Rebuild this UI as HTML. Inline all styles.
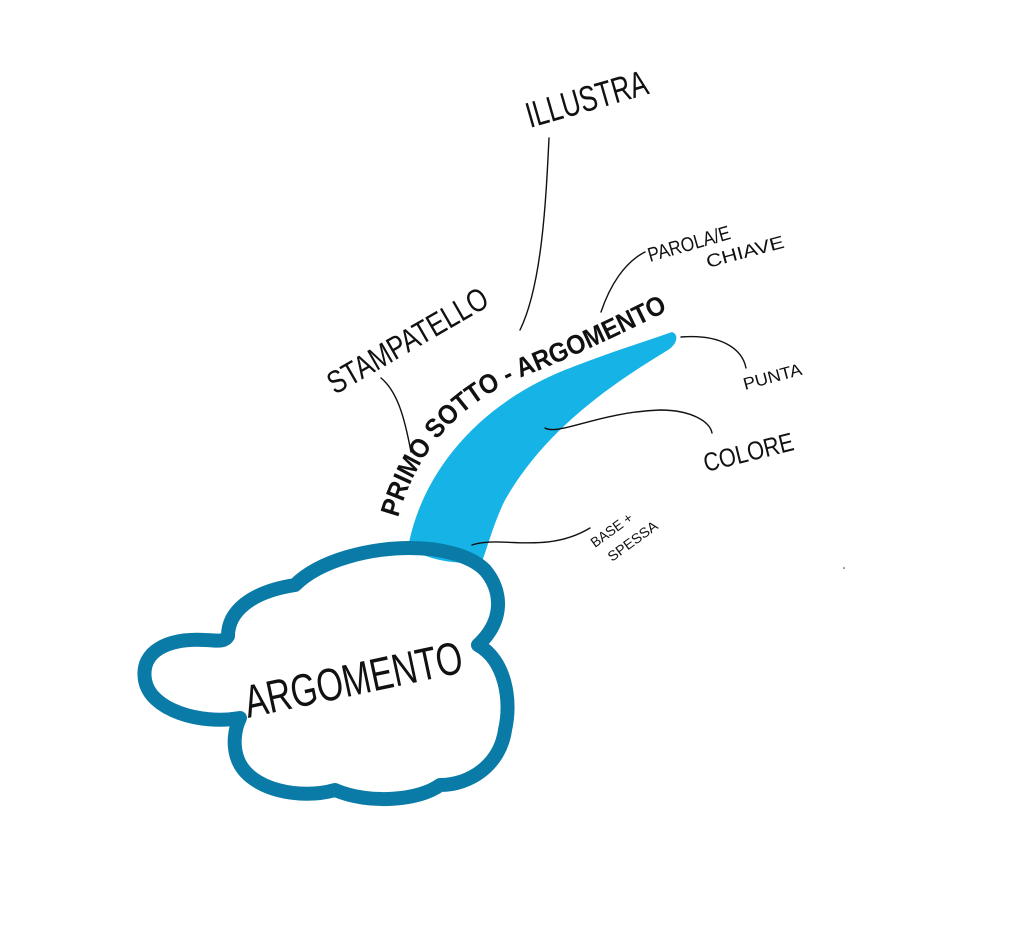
<!DOCTYPE html>
<html><head><meta charset="utf-8"><style>
html,body{margin:0;padding:0;background:#fff;width:1024px;height:935px;overflow:hidden}
svg{display:block}
text{font-family:"Liberation Sans",sans-serif;fill:#111}
</style></head><body>
<svg width="1024" height="935" viewBox="0 0 1024 935" xmlns="http://www.w3.org/2000/svg">
<!-- blue branch -->
<path d="M408,548 C420,480 470,410 560,372 C610,352 650,340 672,332 C680,335 676,345 668,350 C610,385 545,430 505,500 C495,520 488,545 482,562 C455,565 430,560 408,548 Z" fill="#15b3e6"/>
<!-- cloud -->
<path d="M228,636 C228,612 250,592 295,585 C320,560 370,548 410,548 C440,548 470,555 485,570 C502,590 505,620 478,645 C505,660 512,700 505,730 C500,765 470,785 440,785 C420,800 370,805 335,790 C300,800 250,790 238,760 C232,745 235,728 240,718 C200,725 150,710 145,680 C140,650 170,638 205,640 C215,640 224,643 228,636 Z" fill="none" stroke="#0a7ba7" stroke-width="14" stroke-linejoin="round"/>
<!-- connectors -->
<g fill="none" stroke="#111" stroke-width="1.4" stroke-linecap="round">
<path d="M549,138 C546,200 542,285 520,330"/>
<path d="M381,378 C398,392 405,420 411,452"/>
<path d="M601,312 C610,285 625,262 645,252"/>
<path d="M681,337 C720,334 742,348 746,368"/>
<path d="M545,428 C558,436 600,412 660,410 C692,410 710,422 712,433"/>
<path d="M472,545 C500,535 545,555 590,528"/>
</g>
<!-- labels -->
<text transform="translate(530,128) rotate(-16)" font-size="36" textLength="125" lengthAdjust="spacingAndGlyphs">ILLUSTRA</text>
<text transform="translate(335,395) rotate(-30)" font-size="32" textLength="180" lengthAdjust="spacingAndGlyphs">STAMPATELLO</text>
<text transform="translate(650,262) rotate(-16)" font-size="20" textLength="85" lengthAdjust="spacingAndGlyphs">PAROLA/E</text>
<text transform="translate(708,268) rotate(-15)" font-size="18" textLength="80" lengthAdjust="spacingAndGlyphs">CHIAVE</text>
<text transform="translate(745,390) rotate(-15)" font-size="17" textLength="60" lengthAdjust="spacingAndGlyphs">PUNTA</text>
<text transform="translate(706,472) rotate(-14)" font-size="26" textLength="92" lengthAdjust="spacingAndGlyphs">COLORE</text>
<text transform="translate(595,548) rotate(-36)" font-size="14" textLength="48" lengthAdjust="spacingAndGlyphs">BASE +</text>
<text transform="translate(612,562) rotate(-36)" font-size="14" textLength="58" lengthAdjust="spacingAndGlyphs">SPESSA</text>
<defs><path id="tp" d="M398,518 C420,440 470,395 540,370 C600,345 650,320 705,292"/></defs>
<text font-size="27" font-weight="bold"><textPath href="#tp" textLength="355" lengthAdjust="spacingAndGlyphs">PRIMO SOTTO - ARGOMENTO</textPath></text>
<text transform="translate(248,718) rotate(-12)" font-size="46" textLength="222" lengthAdjust="spacingAndGlyphs">ARGOMENTO</text>
<circle cx="844" cy="568" r="0.8" fill="#333"/>
</svg>
</body></html>
